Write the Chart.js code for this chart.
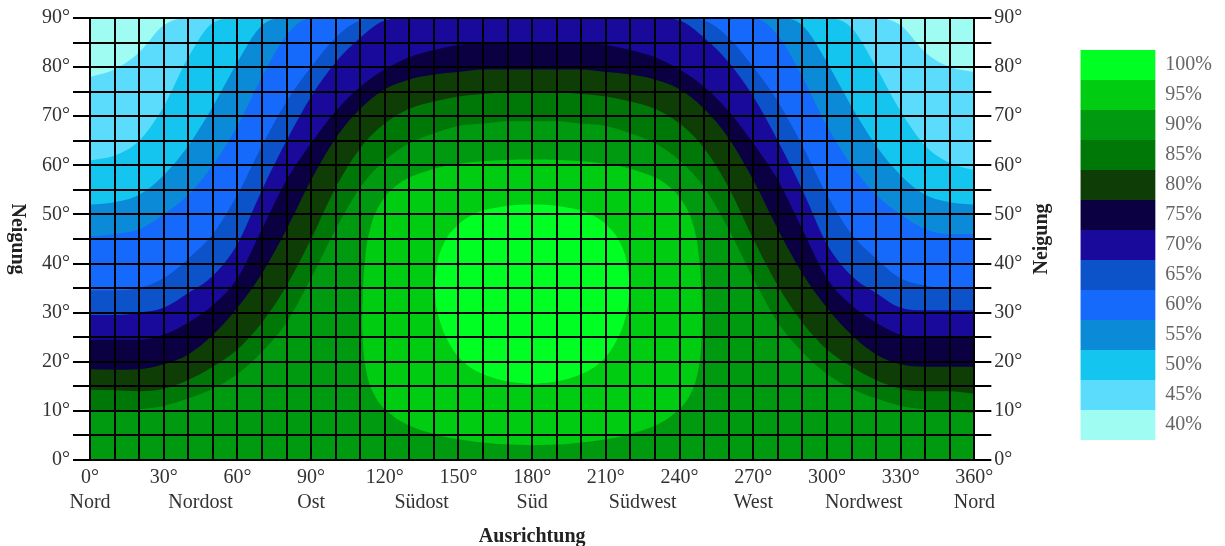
<!DOCTYPE html>
<html>
<head>
<meta charset="utf-8">
<script src="https://cdn.jsdelivr.net/npm/chart.js@4.4.1/dist/chart.umd.min.js"></script>
<style>
  html, body { margin: 0; padding: 0; background: #fff; }
  #wrap { width: 1225px; height: 546px; }
</style>
</head>
<body>
<div id="wrap"><canvas id="ertrag" width="1225" height="546"></canvas></div>
<script>
// Ausrichtung in Grad (0 = Nord, 180 = Süd)
const azimuths = [0, 10, 20, 30, 40, 50, 60, 70, 80, 90, 100, 110, 120, 130, 140, 150, 160, 170, 180,
                  190, 200, 210, 220, 230, 240, 250, 260, 270, 280, 290, 300, 310, 320, 330, 340, 350, 360];
const directionNames = ['Nord', 'Nordost', 'Ost', 'Südost', 'Süd', 'Südwest', 'West', 'Nordwest', 'Nord'];

// Ertragsstufen und Farben der Legende
const levels = [100, 95, 90, 85, 80, 75, 70, 65, 60, 55, 50, 45, 40];
const levelColors = ['#00ff22', '#00cc11', '#009a10', '#007808', '#0e3e06', '#0a0042', '#1a0a9c',
                     '#0c52c8', '#1569fb', '#0b8ad8', '#14c6ef', '#5cdcfc', '#9efcf2'];

// Obere Grenze (Neigung) der Fläche mit mindestens x % Ertrag, je Ausrichtung
const tilt90 = [9.8, 10, 10.3, 11, 12.5, 14.5, 17.5, 22, 28, 37, 47, 55.5, 61, 64.5, 66.5, 68, 68.5, 69, 69,
                69, 68.5, 68, 66.5, 64.5, 61, 55.5, 47, 37, 28, 22, 17.5, 14.5, 12.5, 11, 10.3, 10, 9.5];
const tilt85 = [14.3, 14.2, 14, 14.5, 16.3, 19, 22.5, 28, 35.5, 45, 55.5, 63.5, 68.5, 71.5, 73, 74, 74.5, 75, 75,
                75, 74.5, 74, 73, 71.5, 68.5, 63.5, 55.5, 45, 35.5, 28, 22.5, 19, 16.3, 14.5, 14, 14, 13.5];
const tilt80 = [18.5, 18.4, 18.5, 19.5, 21.5, 25.5, 31, 38, 47, 57, 65.5, 71.5, 75.5, 77.5, 78.5, 79, 79.5, 79.5, 79.5,
                79.5, 79.5, 79, 78.5, 77.5, 75.5, 71.5, 65.5, 57, 47, 38, 31, 25.5, 21.5, 19.5, 19, 19, 19];
const tilt75 = [24.5, 24.5, 24.5, 25.5, 28, 31.5, 37, 47, 57, 64.5, 71, 76, 79.5, 82, 83.5, 84.5, 85, 85, 85,
                85, 85, 84.5, 83.5, 82, 79.5, 76, 71, 64.5, 57, 47, 37, 31.5, 28, 25.5, 25, 25, 25];
const tilt70 = [29.5, 29.5, 30, 31, 34, 37.5, 44, 55, 65, 74, 81, 86, 89.5, 90, 90, 90, 90, 90, 90,
                90, 90, 90, 90, 90, 89.5, 86, 81, 74, 65, 55, 44, 37.5, 34, 31, 30.5, 30.5, 30.5];
const tilt65 = [34.5, 34.5, 35, 37, 41, 46, 54, 64, 73, 80, 86, 89.5, 90, 90, 90, 90, 90, 90, 90,
                90, 90, 90, 90, 90, 90, 89.5, 86, 80, 73, 64, 54, 46, 41, 37, 35.5, 35, 35];
const tilt60 = [45.5, 46, 47, 50, 54, 60, 68, 78, 86.5, 90, 90, 90, 90, 90, 90, 90, 90, 90, 90,
                90, 90, 90, 90, 90, 90, 90, 90, 90, 86.5, 78, 68, 60, 54, 50, 47, 46, 46];
const tilt55 = [52, 52.5, 54, 58, 64, 72, 81, 88.5, 90, 90, 90, 90, 90, 90, 90, 90, 90, 90, 90,
                90, 90, 90, 90, 90, 90, 90, 90, 90, 90, 88.5, 81, 72, 64, 58, 54, 52.5, 52];
const tilt50 = [61, 62, 65, 72, 82, 89, 90, 90, 90, 90, 90, 90, 90, 90, 90, 90, 90, 90, 90,
                90, 90, 90, 90, 90, 90, 90, 90, 90, 90, 90, 90, 88, 80, 71, 64, 60.5, 59];
const tilt45 = [78, 79.5, 83, 88.5, 90, 90, 90, 90, 90, 90, 90, 90, 90, 90, 90, 90, 90, 90, 90,
                90, 90, 90, 90, 90, 90, 90, 90, 90, 90, 90, 90, 90, 90, 88.5, 83, 80, 79];

// Geschlossene Konturen um das Optimum (Ausrichtung, Neigung)
const blob95Az = [180, 165, 150, 140, 130, 122, 116, 112.5, 111, 111, 112, 114, 118, 125, 135, 150, 165, 180,
                  195, 210, 225, 235, 242, 246, 248, 249, 249, 247.5, 244, 238, 230, 220, 210, 195, 180];
const blob95Tilt = [3, 3.3, 4.2, 5.3, 7, 9.5, 13, 18, 25, 33, 41, 47, 52, 56, 58.5, 60.3, 61, 61.2,
                    61, 60.3, 58.5, 56, 52, 47, 41, 33, 25, 18, 13, 9.5, 7, 5.3, 4.2, 3.3, 3];
const blob100Az = [180, 170, 160, 152, 146, 142, 140.5, 141, 143.5, 148, 156, 167, 180,
                   193, 204, 212, 216.5, 219, 219.5, 218, 214, 208, 200, 190, 180];
const blob100Tilt = [15.5, 16, 17.5, 20, 24, 29, 34, 39, 43.5, 47, 50, 51.5, 52,
                     51.5, 50, 47, 43.5, 39, 34, 29, 24, 20, 17.5, 16, 15.5];

const serif = '"Liberation Serif", "Times New Roman", serif';
const gridColor = '#000';
const textColor = '#333';

function curve(tilts) {
    return azimuths.map((a, i) => ({ x: a, y: tilts[i] }));
}
function ring(az, tilts) {
    return az.map((a, i) => ({ x: a, y: tilts[i] }));
}
function band(level, data, fill) {
    const color = levelColors[levels.indexOf(level)];
    return {
        label: level + '%',
        data: data,
        fill: fill,
        backgroundColor: color,
        borderColor: color,
        borderWidth: 0,
        pointRadius: 0,
        tension: fill === 'shape' ? 0.4 : 0,
        cubicInterpolationMode: fill === 'shape' ? 'default' : 'monotone'
    };
}

// erste Datenreihe liegt oben
const datasets = [
    band(100, ring(blob100Az, blob100Tilt), 'shape'),
    band(95, ring(blob95Az, blob95Tilt), 'shape'),
    band(90, curve(tilt90), 'origin'),
    band(85, curve(tilt85), 'origin'),
    band(80, curve(tilt80), 'origin'),
    band(75, curve(tilt75), 'origin'),
    band(70, curve(tilt70), 'origin'),
    band(65, curve(tilt65), 'origin'),
    band(60, curve(tilt60), 'origin'),
    band(55, curve(tilt55), 'origin'),
    band(50, curve(tilt50), 'origin'),
    band(45, curve(tilt45), 'origin')
];

// Grundfarbe (40 %) der Zeichenfläche
const areaBackground = {
    id: 'areaBackground',
    beforeDatasetsDraw(chart) {
        const { ctx, chartArea: a } = chart;
        ctx.save();
        ctx.fillStyle = levelColors[levelColors.length - 1];
        ctx.fillRect(a.left, a.top, a.right - a.left, a.bottom - a.top);
        ctx.restore();
    }
};

// Achsentitel "Neigung" links und rechts
const sideTitles = {
    id: 'sideTitles',
    afterDraw(chart) {
        const { ctx, chartArea: a } = chart;
        const cy = (a.top + a.bottom) / 2;
        ctx.save();
        ctx.font = 'bold 20px ' + serif;
        ctx.fillStyle = '#222';
        ctx.textAlign = 'center';
        ctx.textBaseline = 'middle';
        ctx.save();
        ctx.translate(a.left - 73, cy);
        ctx.rotate(Math.PI / 2);
        ctx.fillText('Neigung', 0, 0);
        ctx.restore();
        ctx.save();
        ctx.translate(a.right + 67, cy);
        ctx.rotate(-Math.PI / 2);
        ctx.fillText('Neigung', 0, 0);
        ctx.restore();
        ctx.restore();
    }
};

const tickFont = { family: serif, size: 20 };
const degreeLabel = v => (v % 10 === 0 ? v + '°' : '');

new Chart(document.getElementById('ertrag').getContext('2d'), {
    type: 'line',
    data: { datasets: datasets },
    options: {
        responsive: false,
        animation: false,
        devicePixelRatio: 1,
        events: [],
        layout: { padding: { top: 18, right: 3, bottom: 0, left: 0 } },
        scales: {
            x: {
                type: 'linear', position: 'bottom', min: 0, max: 360, weight: 0,
                afterFit: s => { s.height = 30; },
                ticks: { stepSize: 10, autoSkip: false, maxRotation: 0, minRotation: 0, padding: 6,
                         color: textColor, font: tickFont, callback: v => (v % 30 === 0 ? v + '°' : '') },
                grid: { color: gridColor, lineWidth: 2, z: 1, drawTicks: false },
                border: { color: gridColor, width: 2, z: 1 }
            },
            x2: {
                type: 'linear', position: 'bottom', min: 0, max: 360, weight: 1,
                afterFit: s => { s.height = 56; },
                ticks: { stepSize: 45, autoSkip: false, maxRotation: 0, minRotation: 0, padding: 1,
                         color: textColor, font: tickFont, callback: v => directionNames[v / 45] },
                grid: { display: false, drawTicks: false },
                border: { display: false },
                title: { display: true, text: 'Ausrichtung', color: '#222', padding: { top: 0, bottom: -3 },
                         font: { family: serif, size: 20, weight: 'bold' } }
            },
            y: {
                type: 'linear', position: 'left', min: 0, max: 90,
                afterFit: s => { s.width = 90; },
                ticks: { stepSize: 5, autoSkip: false, padding: 3, color: textColor, font: tickFont, callback: degreeLabel },
                grid: { color: gridColor, lineWidth: 2, z: 1, tickLength: 17 },
                border: { color: gridColor, width: 2, z: 1 }
            },
            y2: {
                type: 'linear', position: 'right', min: 0, max: 90,
                afterFit: s => { s.width = 106; },
                ticks: { stepSize: 5, autoSkip: false, padding: 3, color: textColor, font: tickFont, callback: degreeLabel },
                grid: { color: gridColor, lineWidth: 2, z: 1, tickLength: 17, drawOnChartArea: false },
                border: { color: gridColor, width: 2, z: 1 }
            }
        },
        plugins: {
            tooltip: { enabled: false },
            legend: {
                position: 'right',
                align: 'start',
                onClick: () => {},
                title: { display: true, text: '', padding: { top: 20, bottom: 0 }, font: { size: 10 } },
                labels: {
                    boxWidth: 75,
                    boxHeight: 30,
                    padding: 0,
                    color: textColor,
                    font: tickFont,
                    generateLabels: () => levels.map((l, i) => ({
                        text: l + '%',
                        fillStyle: levelColors[i],
                        strokeStyle: levelColors[i],
                        lineWidth: 0,
                        hidden: false,
                        index: i
                    }))
                }
            }
        }
    },
    plugins: [areaBackground, sideTitles]
});
</script>
</body>
</html>
